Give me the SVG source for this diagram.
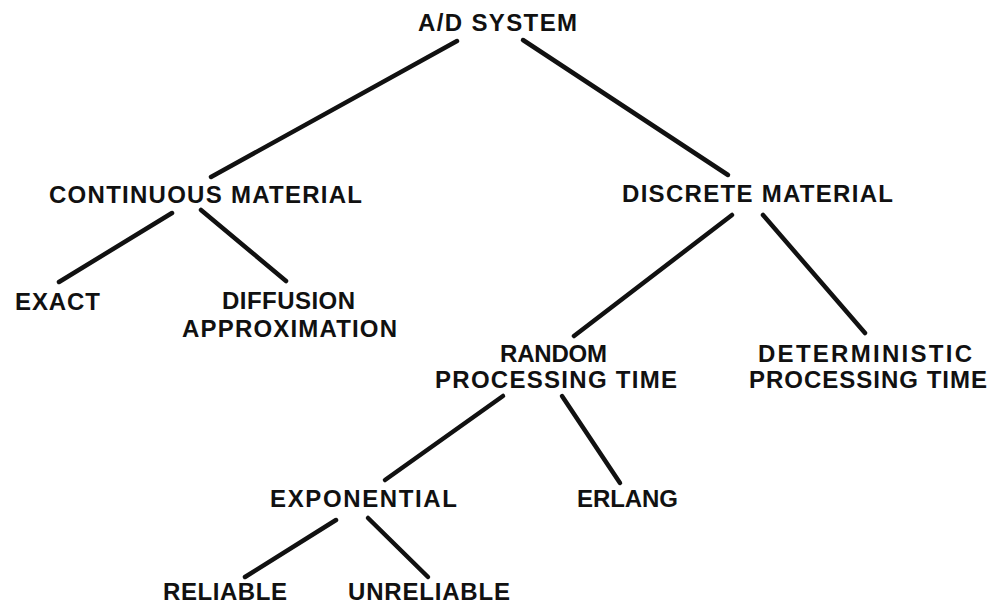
<svg xmlns="http://www.w3.org/2000/svg" width="995" height="606" viewBox="0 0 995 606">
<style>
.t{font-family:"Liberation Sans",Arial,sans-serif;font-weight:bold;font-size:24px;fill:#111;}
.c line{stroke:#111;stroke-width:4.5;stroke-linecap:round;}
</style>
<rect width="995" height="606" fill="#fff"/>
<g class="c" id="connectors">
<line x1="457" y1="41" x2="211" y2="177"/>
<line x1="523" y1="40" x2="728" y2="175"/>
<line x1="172" y1="213" x2="59" y2="282"/>
<line x1="201" y1="210" x2="286" y2="281"/>
<line x1="732" y1="215" x2="574" y2="336"/>
<line x1="763" y1="215" x2="865" y2="333"/>
<line x1="503" y1="396" x2="385" y2="480"/>
<line x1="562" y1="396" x2="620" y2="483"/>
<line x1="336" y1="520" x2="245" y2="577"/>
<line x1="368" y1="518" x2="428" y2="577"/>
</g>
<g id="root"><text class="t" x="418" y="31" textLength="159" lengthAdjust="spacing">A/D SYSTEM</text></g>
<g id="continuous"><text class="t" x="49" y="203" textLength="313" lengthAdjust="spacing">CONTINUOUS MATERIAL</text></g>
<g id="discrete"><text class="t" x="622" y="202" textLength="271" lengthAdjust="spacing">DISCRETE MATERIAL</text></g>
<g id="exact"><text class="t" x="15" y="310" textLength="85" lengthAdjust="spacing">EXACT</text></g>
<g id="diffusion"><text class="t" x="222" y="309" textLength="133" lengthAdjust="spacing">DIFFUSION</text><text class="t" x="182" y="337" textLength="215" lengthAdjust="spacing">APPROXIMATION</text></g>
<g id="random"><text class="t" x="500" y="362" textLength="107" lengthAdjust="spacing">RANDOM</text><text class="t" x="435" y="388" textLength="242" lengthAdjust="spacing">PROCESSING TIME</text></g>
<g id="deterministic"><text class="t" x="758" y="362" textLength="214" lengthAdjust="spacing">DETERMINISTIC</text><text class="t" x="749" y="388" textLength="238" lengthAdjust="spacing">PROCESSING TIME</text></g>
<g id="exponential"><text class="t" x="270" y="507" textLength="187" lengthAdjust="spacing">EXPONENTIAL</text></g>
<g id="erlang"><text class="t" x="577" y="507" textLength="101" lengthAdjust="spacing">ERLANG</text></g>
<g id="reliable"><text class="t" x="163" y="600" textLength="124" lengthAdjust="spacing">RELIABLE</text></g>
<g id="unreliable"><text class="t" x="348" y="600" textLength="162" lengthAdjust="spacing">UNRELIABLE</text></g>
</svg>
